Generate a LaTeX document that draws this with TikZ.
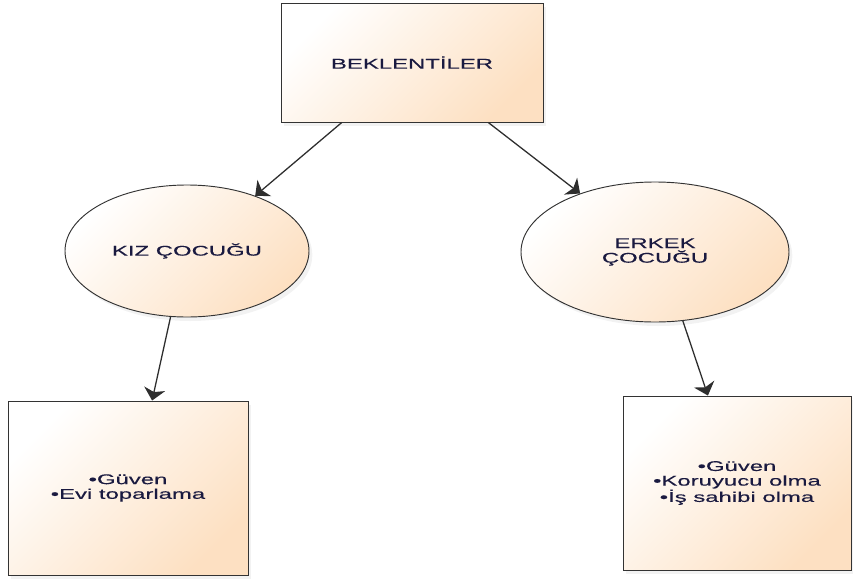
\documentclass[tikz,border=0pt]{standalone}
\usepackage{fontspec}
\usepackage{xcolor}
\usepackage{tikz}
\usetikzlibrary{positioning, arrows.meta, shapes.geometric, shadows, calc}
\newfontfamily\diagfont{Liberation Sans}[FakeStretch=1.7, FakeBold=0.3]
\definecolor{bPeach}{HTML}{FDE0C2}
\definecolor{bWhite}{HTML}{FFFFFF}
\definecolor{nInk}{HTML}{1A1A40}
\definecolor{nEdge}{HTML}{333333}
\definecolor{nArrow}{HTML}{2E2E2E}

\begin{document}
\begin{tikzpicture}[>={Stealth[length=0.36cm, width=0.64cm, inset=0.1cm]},
  box/.style={draw=nEdge, line width=0.8pt, top color=bWhite, bottom color=bPeach, shading angle=45,
    drop shadow={shadow xshift=0.1cm, shadow yshift=-0.12cm, opacity=0.1},
    text=nInk, font=\diagfont\fontsize{12}{12.5}\selectfont, align=center, inner sep=0pt},
  oval/.style={box, ellipse},
  arr/.style={line width=1.1pt, nArrow}]
  \useasboundingbox (0,0) rectangle (25.59,-17.43);
  \node[box, minimum width=7.86cm, minimum height=3.57cm] (bek) at (12.36,-1.875) {BEKLENTİLER};
  \node[oval, minimum width=7.32cm, minimum height=3.96cm] (kiz) at (5.61,-7.53) {KIZ ÇOCUĞU};
  \node[oval, minimum width=8.04cm, minimum height=4.2cm] (erk) at (19.65,-7.56) {ERKEK\\ÇOCUĞU};
  \node[box, minimum width=7.2cm, minimum height=5.22cm] (kizl) at (3.84,-14.64) {•Güven\\•Evi toparlama};
  \node[box, minimum width=6.84cm, minimum height=5.22cm] (erkl) at (22.11,-14.49) {•Güven\\•Koruyucu olma\\•İş sahibi olma};
  % connectors
  \draw[->, arr] ($(bek.south west)!0.233!(bek.south east)$) -- (kiz.39.5);
  \draw[->, arr] ($(bek.south west)!0.79!(bek.south east)$) -- (erk.142);
  \draw[->, arr] (kiz.-104) -- ($(kizl.north west)!0.6!(kizl.north east)$);
  \draw[->, arr] (erk.-68) -- ($(erkl.north west)!0.373!(erkl.north east)$);
\end{tikzpicture}
\end{document}
